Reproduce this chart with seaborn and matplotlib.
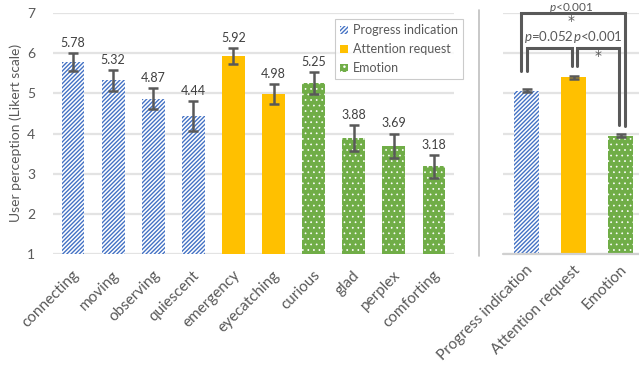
import numpy as np
import pandas as pd
import matplotlib
matplotlib.use("Agg")
import matplotlib.pyplot as plt
import matplotlib.transforms as mtrans
import seaborn as sns
from matplotlib.patches import Patch
from matplotlib.lines import Line2D

# ---------------- data ----------------
categories = ["connecting", "moving", "observing", "quiescent", "emergency",
              "eyecatching", "curious", "glad", "perplex", "comforting"]
cat_groups = ["Progress indication"] * 4 + ["Attention request"] * 2 + ["Emotion"] * 4
means = [5.78, 5.32, 4.87, 4.44, 5.92, 4.98, 5.25, 3.88, 3.69, 3.18]
errs = [0.22, 0.27, 0.27, 0.38, 0.20, 0.25, 0.27, 0.32, 0.31, 0.29]

group_names = ["Progress indication", "Attention request", "Emotion"]
group_means = [5.07, 5.40, 3.95]
group_errs = [0.03, 0.04, 0.04]

y_ticks = [1, 2, 3, 4, 5, 6, 7]
y_label = "User perception (Likert scale)"
p_texts = [r"$p$<0.001", r"$p$=0.052", r"$p$<0.001"]

# ---------------- style ----------------
sns.set_style("white")
plt.rcParams["font.family"] = ["Lato", "DejaVu Sans"]
plt.rcParams["mathtext.fontset"] = "custom"
plt.rcParams["mathtext.it"] = "Lato:italic"
plt.rcParams["mathtext.rm"] = "Lato"
plt.rcParams["hatch.linewidth"] = 1.0

BLUE = "#4472C4"
ORANGE = "#FFC000"
GREEN = "#70AD47"
TXT = "#595959"
GRID = "#e3e3e3"
ERR = "#595959"

styles = {
    "Progress indication": dict(facecolor="white", edgecolor=BLUE, hatch="////////"),
    "Attention request": dict(facecolor=ORANGE, edgecolor=ORANGE, hatch=None),
    "Emotion": dict(facecolor=GREEN, edgecolor="white", hatch="..."),
}

fig = plt.figure(figsize=(6.39, 3.65), dpi=100)
ax = fig.add_axes([53 / 639, 1 - 254 / 365, 401 / 639, 241 / 365])
ax2 = fig.add_axes([503 / 639, 1 - 254 / 365, 141 / 639, 241 / 365])


def apply_style(p, g):
    st = styles[g]
    p.set_facecolor(st["facecolor"])
    p.set_edgecolor(st["edgecolor"])
    p.set_linewidth(0)
    if st["hatch"]:
        p.set_hatch(st["hatch"])
        if g == "Emotion" and hasattr(p, "set_hatch_linewidth"):
            p.set_hatch_linewidth(0.5)


def style_bars(axis, group_of_index):
    for p in axis.patches:
        c = p.get_x() + p.get_width() / 2
        i = int(round(c))
        apply_style(p, group_of_index[i])


def style_axis(axis, dx, dy):
    axis.set_ylim(1, 7)
    axis.set_yticks(y_ticks)
    axis.grid(axis="y", color=GRID, lw=1.6)
    axis.set_axisbelow(True)
    for s in axis.spines.values():
        s.set_visible(False)
    axis.tick_params(axis="both", length=0, colors=TXT)
    axis.set_xlabel("")
    axis.set_ylabel("")
    off = mtrans.ScaledTranslation(dx / 100, dy / 100, fig.dpi_scale_trans)
    for lab in axis.get_xticklabels():
        lab.set_rotation(45)
        lab.set_ha("right")
        lab.set_va("center")
        lab.set_rotation_mode("anchor")
        lab.set_fontsize(11)
        lab.set_color(TXT)
        lab.set_transform(lab.get_transform() + off)


# ---------------- left panel ----------------
df = pd.DataFrame({"cat": categories, "val": means, "group": cat_groups})
sns.barplot(data=df, x="cat", y="val", hue="group", dodge=False, width=0.57,
            errorbar=None, legend=False, ax=ax,
            palette=[BLUE, ORANGE, GREEN], order=categories)
style_bars(ax, cat_groups)
ax.errorbar(np.arange(len(categories)), means, yerr=errs, fmt="none",
            ecolor=ERR, elinewidth=1.8, capsize=3.8, capthick=1.8, zorder=5)
for i, (m, e) in enumerate(zip(means, errs)):
    ax.text(i, m + e + 0.1, f"{m:.2f}", ha="center", va="bottom",
            fontsize=9, color="#404040")
style_axis(ax, 4, -14)
ax.set_xlim(-0.5, len(categories) - 0.5)
ax.tick_params(axis="y", labelsize=10, pad=13)
fig.text(16 / 639, 1 - 133 / 365, y_label, rotation=90, ha="center", va="center",
         fontsize=10, color=TXT)

handles = []
for g in group_names:
    h = Patch(label=g)
    apply_style(h, g)
    handles.append(h)
leg = ax.legend(handles=handles, loc="upper left", bbox_to_anchor=(276 / 401, 1.0),
                frameon=True, fancybox=False, fontsize=9, handlelength=0.6,
                handleheight=0.6, handletextpad=0.4, labelspacing=0.55,
                borderpad=0.4, labelcolor=TXT)
leg.get_frame().set_edgecolor("#bfbfbf")
leg.get_frame().set_linewidth(0.8)

# ---------------- right panel ----------------
gdf = pd.DataFrame({"grp": group_names, "val": group_means})
sns.barplot(data=gdf, x="grp", y="val", hue="grp", width=0.55, errorbar=None,
            legend=False, ax=ax2, palette=[BLUE, ORANGE, GREEN], order=group_names)
style_bars(ax2, group_names)
ax2.errorbar(np.arange(3), group_means, yerr=group_errs, fmt="none",
             ecolor=ERR, elinewidth=1.8, capsize=3.8, capthick=1.8, zorder=5)
style_axis(ax2, 4, -9)
ax2.set_yticklabels([])
ax2.set_xlim(-0.5, 2.5)
ax2.axhline(1, color="#d0d0d0", lw=1.6, zorder=1, clip_on=False)

# significance brackets (data coordinates of right panel)
BR = dict(color=TXT, lw=2.2, clip_on=False, solid_joinstyle="miter", zorder=6)
ax2.plot([-0.12, -0.12, 2.09, 2.09], [5.55, 7.0, 7.0, 4.18], **BR)
ax2.plot([0.0, 0.0, 0.96, 0.96], [5.55, 6.12, 6.12, 5.68], **BR)
ax2.plot([1.08, 1.08, 1.97, 1.97], [5.68, 6.12, 6.12, 4.2], **BR)
ax2.text(0.95, 7.06, p_texts[0], ha="center", va="baseline", fontsize=8.5,
         color=TXT, clip_on=False)
ax2.text(0.95, 6.98, "*", ha="center", va="top", fontsize=10, color=TXT,
         family="DejaVu Sans")
ax2.text(0.48, 6.2, p_texts[1], ha="center", va="bottom", fontsize=9.5, color=TXT)
ax2.text(1.52, 6.2, p_texts[2], ha="center", va="bottom", fontsize=9.5, color=TXT)
ax2.text(1.52, 6.10, "*", ha="center", va="top", fontsize=10, color=TXT,
         family="DejaVu Sans")

# separator line
fig.add_artist(Line2D([479 / 639, 479 / 639], [1 - 256 / 365, 1 - 10 / 365],
                      color="#bfbfbf", lw=1.2))

fig.savefig("out.png", dpi=100)
